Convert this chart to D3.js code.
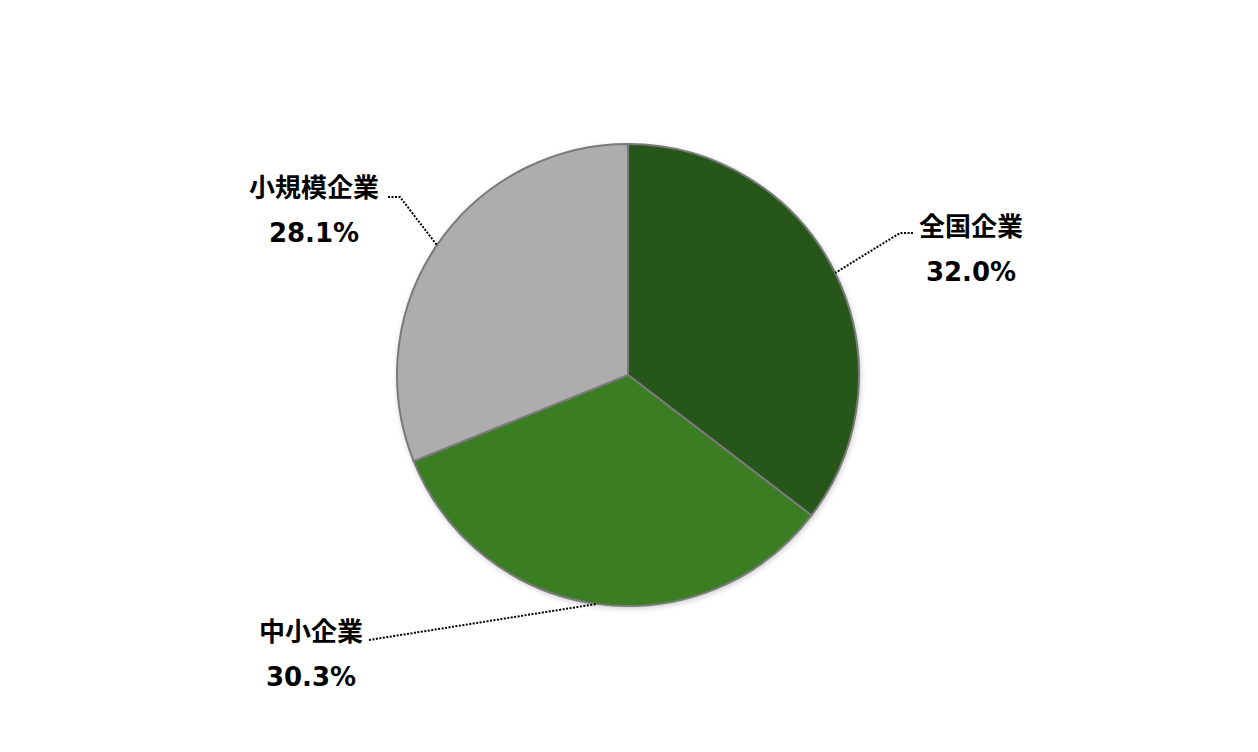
<!DOCTYPE html>
<html>
<head>
<meta charset="utf-8">
<script src="https://cdn.jsdelivr.net/npm/d3@7"></script>
<style>
  body { margin: 0; background: #fff; }
  text { font-family: "DejaVu Sans", "Noto Sans CJK JP", sans-serif; font-weight: bold; fill: #000; }
</style>
</head>
<body>
<div id="chart"></div>
<script>
// chart data
var labels = ["全国企業", "中小企業", "小規模企業"];
var values = [32.0, 30.3, 28.1];
var colors = ["#27561a", "#3a7d22", "#adadad"];

let width = 1258;
let height = 752;
let cx = 628, cy = 375, radius = 231;

let svg = d3.select('#chart')
  .append('svg')
  .attr('width', width)
  .attr('height', height);

// soft shadow round the pie
let defs = svg.append('defs');
let f = defs.append('filter').attr('id', 'shadow')
  .attr('x', '-10%').attr('y', '-10%').attr('width', '120%').attr('height', '120%');
f.append('feGaussianBlur').attr('in', 'SourceAlpha').attr('stdDeviation', 3);
f.append('feOffset').attr('dx', 1).attr('dy', 2).attr('result', 'b');
f.append('feComponentTransfer').append('feFuncA').attr('type', 'linear').attr('slope', 0.25);
let m = f.append('feMerge');
m.append('feMergeNode');
m.append('feMergeNode').attr('in', 'SourceGraphic');

let pie = d3.pie().sort(null).value(d => d);
let arc = d3.arc().innerRadius(0).outerRadius(radius);

let g = svg.append('g').attr('transform', `translate(${cx},${cy})`);

g.append('circle').attr('r', radius).attr('fill', '#fff').attr('filter', 'url(#shadow)');

g.selectAll('.slice')
  .data(pie(values))
  .enter()
  .append('path')
  .attr('class', 'slice')
  .attr('d', arc)
  .attr('fill', (d, i) => colors[i])
  .attr('stroke', '#7a7a7a')
  .attr('stroke-width', 2);

// label placement (text centre, first line baseline), leader elbows, and angle where leader meets the pie
var labelPos = [
  { x: 971, y: 236, elbow: [[913, 233], [900, 233]], angle: 1.113 },
  { x: 311, y: 641, elbow: [[369, 640]], angle: 3.276 },
  { x: 314, y: 197, elbow: [[388, 197], [400, 197]], angle: -0.974 }
];

labelPos.forEach(function (p, i) {
  let edge = [cx + radius * Math.sin(p.angle), cy - radius * Math.cos(p.angle)];
  let pts = p.elbow.concat([edge]);
  svg.append('path')
    .attr('d', d3.line()(pts))
    .attr('fill', 'none')
    .attr('stroke', '#000')
    .attr('stroke-width', 2)
    .attr('stroke-dasharray', '2,1.5');

  svg.append('text')
    .attr('x', p.x).attr('y', p.y)
    .attr('text-anchor', 'middle')
    .style('font-size', '26px')
    .text(labels[i]);
  svg.append('text')
    .attr('x', p.x).attr('y', p.y + 45)
    .attr('text-anchor', 'middle')
    .style('font-size', '26px')
    .text(values[i].toFixed(1) + '%');
});
</script>
</body>
</html>
